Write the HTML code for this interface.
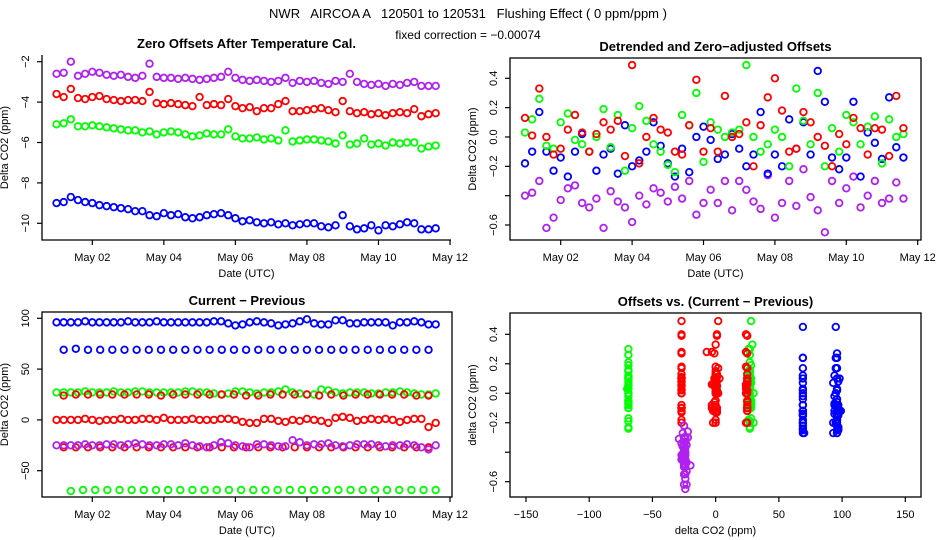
<!DOCTYPE html>
<html><head><meta charset="utf-8"><style>
body{margin:0;background:#fff}
svg{display:block;font-family:"Liberation Sans",sans-serif}
</style></head><body>
<svg id="c" width="936" height="540" viewBox="0 0 936 540">
<text x="468" y="18" text-anchor="middle" font-size="13" xml:space="preserve">NWR   AIRCOA A   120501 to 120531   Flushing Effect ( 0 ppm/ppm )</text>
<text x="468" y="39" text-anchor="middle" font-size="12">fixed correction = −0.00074</text>
</svg>
<script>
// ---- data ----
const tlPurple=[-2.6,-2.55,-2.0,-2.7,-2.6,-2.5,-2.55,-2.65,-2.7,-2.65,-2.75,-2.8,-2.7,-2.1,-2.75,-2.8,-2.8,-2.85,-2.8,-2.85,-2.9,-2.85,-2.8,-2.75,-2.5,-2.8,-2.9,-2.95,-2.9,-2.95,-3.0,-2.95,-2.8,-3.05,-2.95,-3.0,-2.95,-3.05,-3.1,-2.95,-3.0,-2.6,-3.0,-3.1,-3.15,-3.1,-3.2,-3.1,-3.15,-3.05,-3.0,-3.2,-3.2,-3.2];
const tlRed=[-3.6,-3.75,-3.35,-3.8,-3.85,-3.75,-3.7,-3.85,-3.9,-3.95,-3.9,-3.9,-3.95,-3.5,-4.05,-4.1,-4.05,-4.1,-4.15,-4.2,-3.75,-4.15,-4.1,-4.15,-3.85,-4.2,-4.3,-4.25,-4.45,-4.3,-4.3,-4.1,-3.95,-4.45,-4.45,-4.4,-4.35,-4.3,-4.4,-4.5,-3.95,-4.45,-4.55,-4.5,-4.6,-4.55,-4.65,-4.55,-4.5,-4.55,-4.35,-4.7,-4.6,-4.55];
const tlGreen=[-5.1,-5.05,-4.85,-5.2,-5.2,-5.15,-5.2,-5.25,-5.3,-5.35,-5.4,-5.4,-5.5,-5.45,-5.6,-5.5,-5.45,-5.5,-5.6,-5.7,-5.65,-5.55,-5.6,-5.6,-5.35,-5.7,-5.8,-5.8,-5.75,-5.85,-5.8,-5.9,-5.4,-5.95,-5.9,-5.85,-5.85,-5.9,-5.95,-6.05,-5.65,-6.1,-6.05,-5.8,-6.1,-6.05,-6.15,-6.0,-6.05,-6.0,-6.0,-6.3,-6.2,-6.15];
const tlBlue=[-9.0,-8.95,-8.7,-8.85,-8.95,-9.0,-9.1,-9.15,-9.2,-9.25,-9.3,-9.4,-9.4,-9.6,-9.65,-9.5,-9.6,-9.55,-9.7,-9.75,-9.7,-9.6,-9.55,-9.5,-9.6,-9.75,-9.9,-9.85,-9.95,-10.0,-9.95,-10.05,-10.0,-10.1,-10.05,-10.0,-10.0,-10.15,-10.2,-10.1,-9.6,-10.15,-10.3,-10.25,-10.1,-10.35,-10.1,-10.15,-10.05,-9.95,-10.0,-10.3,-10.3,-10.25];
const trBlue=[-0.18,-0.1,0.17,-0.1,-0.23,-0.14,-0.27,-0.1,0.02,-0.1,-0.23,-0.12,-0.08,-0.25,0.08,-0.2,-0.16,-0.1,0.1,-0.06,-0.18,-0.27,-0.08,-0.24,0.0,0.07,-0.02,-0.15,-0.12,0.02,-0.08,-0.2,-0.12,0.17,-0.25,-0.12,-0.2,0.12,-0.08,0.1,-0.12,0.45,0.24,-0.14,-0.22,-0.14,0.24,-0.27,0.03,-0.04,-0.15,0.27,-0.07,-0.14];
const trGreen=[0.03,0.12,0.26,-0.06,-0.08,0.1,0.16,-0.02,-0.05,-0.1,0.0,0.19,-0.07,0.15,-0.23,0.06,0.21,0.11,-0.05,-0.1,-0.19,-0.24,0.15,0.08,0.3,-0.17,0.1,0.05,0.0,0.03,0.05,0.49,0.0,-0.1,-0.05,0.05,0.0,-0.2,0.33,0.11,-0.05,0.3,-0.2,0.06,-0.1,0.15,0.1,-0.05,0.07,0.14,-0.18,0.12,0.0,0.02];
const trRed=[0.13,0.01,0.33,0.0,-0.12,-0.08,0.05,0.15,0.03,-0.1,0.02,0.1,0.05,0.11,-0.13,0.49,-0.18,0.0,0.13,0.05,0.03,-0.1,-0.12,0.08,0.39,-0.1,0.06,-0.1,0.28,0.0,0.02,0.1,-0.2,0.08,0.27,0.4,0.18,-0.1,-0.08,0.17,0.1,0.0,-0.06,-0.2,0.02,-0.05,0.13,0.06,-0.12,0.06,0.05,-0.13,0.28,0.06];
const trPurple=[-0.4,-0.38,-0.3,-0.62,-0.55,-0.43,-0.35,-0.33,-0.45,-0.48,-0.42,-0.62,-0.37,-0.44,-0.48,-0.58,-0.4,-0.46,-0.35,-0.38,-0.44,-0.34,-0.42,-0.3,-0.53,-0.45,-0.36,-0.45,-0.3,-0.5,-0.3,-0.36,-0.44,-0.49,-0.26,-0.55,-0.45,-0.3,-0.47,-0.22,-0.41,-0.5,-0.65,-0.3,-0.45,-0.35,-0.27,-0.48,-0.4,-0.3,-0.45,-0.42,-0.31,-0.42];
const blBlueHi=[96,96,96,96,97,96,96,96,96,96,97,96,96,96,97,96,96,96,96,96,96,96,97,97,95,93,94,96,97,96,95,93,94,95,97,99,95,94,94,98,98,95,95,96,96,96,96,93,96,96,97,96,94,94];
const blGreenHi=[27,27,27,27,28,27,27,27,28,27,27,28,28,27,27,27,27,27,28,28,27,27,26,25,26,28,28,27,26,27,27,28,30,27,26,25,25,30,29,27,26,27,27,27,26,26,27,27,28,27,26,25,25,26];
const blRedMid=[0,0,0,0,1,0,-1,0,0,1,0,0,1,1,0,2,0,0,0,1,0,0,0,1,1,0,-2,-3,-3,1,1,-1,-2,0,-1,1,0,-1,-3,2,3,2,-1,0,1,0,1,0,-2,0,1,1,-7,-3];
const blPurple=[-25,-25,-25,-25,-24,-25,-25,-24,-24,-25,-24,-23,-24,-25,-25,-24,-24,-25,-23,-25,-26,-27,-25,-22,-23,-25,-26,-27,-24,-24,-25,-26,-26,-20,-22,-25,-24,-24,-23,-25,-26,-25,-24,-24,-24,-25,-26,-25,-25,-24,-25,-27,-29,-25];
const blBlueLo=[69,70,69,69,69,69,69,69,69,69,69,69,69,69,69,69,69,69,69,69,69,69,69,69,69,69,69,69,69,69,69];
const blRedHi=[24,25,25,25,25,25,25,25,24,25,25,25,25,25,25,24,24,25,25,25,25,24,25,24,25,25,25,25,25,24,24];
const blRedLo=[-27,-27,-27,-27,-27,-27,-27,-27,-27,-27,-27,-27,-27,-27,-27,-27,-27,-27,-27,-27,-27,-27,-27,-27,-27,-27,-27,-27,-27,-27,-27];
const blGreenLo=[-70,-69,-69,-69,-69,-69,-69,-69,-69,-69,-69,-69,-69,-69,-69,-69,-69,-69,-69,-69,-69,-69,-69,-69,-69,-69,-69,-69,-69,-69,-69];
const dateTicks=[2,4,6,8,10,12];
const dateLabels=["May 02","May 04","May 06","May 08","May 10","May 12"];
const tlYTicks=[-2,-4,-6,-8,-10];
const offYTicks=[0.4,0.2,0.0,-0.2,-0.4,-0.6];
const offYLabels=["0.4","0.2","0.0","−0.2","","−0.6"];
const blYTicks=[100,50,0,-50];
const brXTicks=[-150,-100,-50,0,50,100,150];

const COL={blue:"#0000ff",red:"#ff0000",green:"#00ff00",purple:"#b020f0"};
const NS="http://www.w3.org/2000/svg";
const svg=document.getElementById('c');
function el(tag,attrs,parent,text){const e=document.createElementNS(NS,tag);for(const k in attrs)e.setAttribute(k,attrs[k]);if(text!=null)e.textContent=text;(parent||svg).appendChild(e);return e;}
function lin(d0,d1,p0,p1){return v=>p0+(v-d0)*(p1-p0)/(d1-d0);}
const denseDay=i=>1.0+i*0.2;
const sparseDay=i=>1.2+i*0.34;

function panel(name,o){
  const g=el('g',{},svg);
  
  
  const t=el('text',{x:(o.L+o.R)/2,y:o.T-7,'text-anchor':'middle','font-size':13,'font-weight':'bold'},g,o.title);
  
  
  if(o.box){const b=el('rect',{x:o.L,y:o.T,width:o.R-o.L,height:o.B-o.T,fill:'none',stroke:'#000','stroke-width':1.3},g);
    
    }
  else{const a=el('path',{d:`M${o.L},${o.T} V${o.B} H${o.R}`,fill:'none',stroke:'#000','stroke-width':1.3},g);
    
    }
  o.yt.forEach((v,i)=>{const y=o.ys(v);
    el('line',{x1:o.L,x2:o.L-5,y1:y,y2:y,stroke:'#000','stroke-width':1.2},g);
    const lb=o.ytl?o.ytl[i]:String(v).replace('-','−');
    if(lb){const tx=el('text',{x:o.L-13,y:y,transform:`rotate(-90 ${o.L-13} ${y})`,'text-anchor':'middle','font-size':11},g,lb);
      
      }
  });
  o.xt.forEach((v,i)=>{const x=o.xs(v);
    el('line',{x1:x,x2:x,y1:o.B,y2:o.B+5,stroke:'#000','stroke-width':1.2},g);
    const tx=el('text',{x:x,y:o.B+21,'text-anchor':'middle','font-size':11},g,o.xtl[i]);
    
    
  });
  const xt=el('text',{x:(o.L+o.R)/2,y:o.B+37,'text-anchor':'middle','font-size':11},g,o.xlab);
  
  
  const yx=o.L-34,yy=(o.T+o.B)/2;
  const yt=el('text',{x:yx,y:yy,transform:`rotate(-90 ${yx} ${yy})`,'text-anchor':'middle','font-size':11},g,o.ylab);
  
  
  return g;
}
function pts(g,name,color,xs,ys,xv,yv){
  const s=el('g',{fill:'none',stroke:color,'stroke-width':1.8},g);
  
  
  yv.forEach((v,i)=>{const c=el('circle',{cx:xs(xv(i)),cy:ys(v),r:3.3},s);
    
    });
}
// Top-left
{const xs=lin(2,12,92.3,450),ys=lin(-2,-10,61.7,223.3);
 const g=panel('zero-offsets-panel',{L:42,R:451,T:55,B:240,box:false,title:'Zero Offsets After Temperature Cal.',xs,ys,xt:dateTicks,xtl:dateLabels,yt:tlYTicks,xlab:'Date (UTC)',ylab:'Delta CO2 (ppm)'});
 pts(g,'purple-series',COL.purple,xs,ys,denseDay,tlPurple);
 pts(g,'red-series',COL.red,xs,ys,denseDay,tlRed);
 pts(g,'green-series',COL.green,xs,ys,denseDay,tlGreen);
 pts(g,'blue-series',COL.blue,xs,ys,denseDay,tlBlue);}
// Top-right
{const xs=lin(2,12,560.7,917.7),ys=lin(0.4,-0.6,78.3,225);
 const g=panel('detrended-offsets-panel',{L:510,R:921,T:58,B:240,box:true,title:'Detrended and Zero−adjusted Offsets',xs,ys,xt:dateTicks,xtl:dateLabels,yt:offYTicks,ytl:offYLabels,xlab:'Date (UTC)',ylab:'Delta CO2 (ppm)'});
 pts(g,'purple-series',COL.purple,xs,ys,denseDay,trPurple);
 pts(g,'blue-series',COL.blue,xs,ys,denseDay,trBlue);
 pts(g,'green-series',COL.green,xs,ys,denseDay,trGreen);
 pts(g,'red-series',COL.red,xs,ys,denseDay,trRed);}
// Bottom-left
{const xs=lin(2,12,92.3,450),ys=lin(100,-50,318.3,470.7);
 const g=panel('current-minus-previous-panel',{L:42,R:452,T:312,B:497,box:true,title:'Current − Previous',xs,ys,xt:dateTicks,xtl:dateLabels,yt:blYTicks,xlab:'Date (UTC)',ylab:'Delta CO2 (ppm)'});
 pts(g,'blue-high-series',COL.blue,xs,ys,denseDay,blBlueHi);
 pts(g,'blue-low-series',COL.blue,xs,ys,sparseDay,blBlueLo);
 pts(g,'green-high-series',COL.green,xs,ys,denseDay,blGreenHi);
 pts(g,'red-high-series',COL.red,xs,ys,sparseDay,blRedHi);
 pts(g,'red-mid-series',COL.red,xs,ys,denseDay,blRedMid);
 pts(g,'red-low-series',COL.red,xs,ys,sparseDay,blRedLo);
 pts(g,'purple-series',COL.purple,xs,ys,denseDay,blPurple);
 pts(g,'green-low-series',COL.green,xs,ys,i=>1.4+i*0.34,blGreenLo);}
// Bottom-right
{const xs=lin(-150,150,526,905.3),ys=lin(0.4,-0.6,334.3,481.7);
 const g=panel('offsets-vs-difference-panel',{L:510,R:921,T:313,B:497,box:true,title:'Offsets vs. (Current − Previous)',xs,ys,xt:brXTicks,xtl:brXTicks.map(v=>String(v).replace('-','−')),yt:offYTicks,ytl:offYLabels,xlab:'delta CO2 (ppm)',ylab:'delta CO2 (ppm)'});
 const pair=(name,c,xa,ya)=>pts(g,name,c,v=>xs(v),ys,i=>xa[i],ya.slice(0,xa.length));
 pair('green-low-cluster',COL.green,blGreenLo,trGreen);
 pair('red-low-cluster',COL.red,blRedLo,trRed.slice(10));
 pair('purple-cluster',COL.purple,blPurple,trPurple);
 pair('red-mid-cluster',COL.red,blRedMid,trRed);
 pair('green-high-cluster',COL.green,blGreenHi,trGreen);
 pair('red-high-cluster',COL.red,blRedHi,trRed.slice(20));
 pair('blue-low-cluster',COL.blue,blBlueLo,trBlue.slice(20));
 pair('blue-high-cluster',COL.blue,blBlueHi,trBlue);}
</script>
</body></html>
